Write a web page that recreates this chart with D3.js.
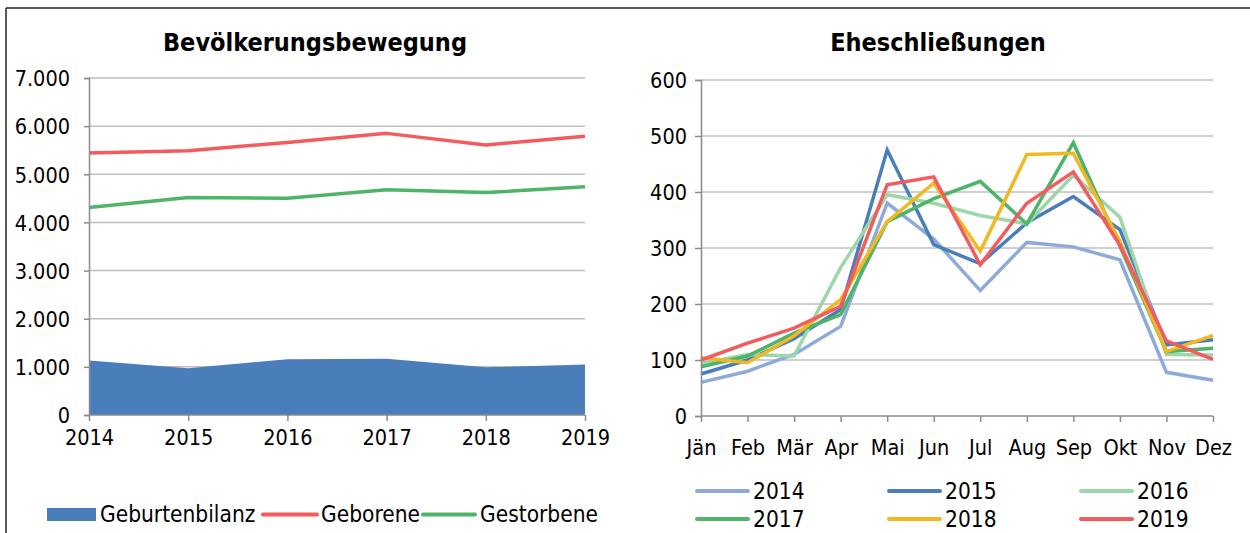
<!DOCTYPE html>
<html>
<head>
<meta charset="utf-8">
<script src="https://cdn.jsdelivr.net/npm/d3@7"></script>
<style>
  html, body { margin: 0; padding: 0; background: #fff; }
  svg { display: block; font-family: "DejaVu Sans Condensed", "DejaVu Sans", sans-serif; }
</style>
</head>
<body>
<svg id="chart" width="1250" height="533"></svg>
<script>
// Bevölkerungsbewegung
const years = ["2014", "2015", "2016", "2017", "2018", "2019"];
const geborene = [5440, 5490, 5660, 5850, 5610, 5790];
const gestorbene = [4310, 4520, 4500, 4680, 4620, 4740];
const geburtenbilanz = [1130, 970, 1160, 1170, 990, 1050];
const popTicks = [0, 1000, 2000, 3000, 4000, 5000, 6000, 7000];

// Eheschließungen
const months = ["Jän", "Feb", "Mär", "Apr", "Mai", "Jun", "Jul", "Aug", "Sep", "Okt", "Nov", "Dez"];
const marriageYears = ["2014", "2015", "2016", "2017", "2018", "2019"];
const m2014 = [60, 80, 110, 160, 380, 316, 224, 310, 302, 279, 78, 64];
const m2015 = [75, 100, 138, 190, 475, 306, 272, 345, 392, 333, 127, 136];
const m2016 = [94, 110, 107, 265, 395, 380, 358, 343, 430, 355, 110, 109];
const m2017 = [88, 107, 148, 181, 347, 388, 419, 343, 488, 303, 115, 121];
const m2018 = [104, 95, 143, 208, 347, 416, 294, 467, 469, 312, 115, 144];
const m2019 = [100, 130, 157, 196, 413, 427, 270, 380, 436, 305, 134, 101];
const marriageTicks = [0, 100, 200, 300, 400, 500, 600];

const marriageSeries = [m2014, m2015, m2016, m2017, m2018, m2019];
const marriageColors = ["#8eaadb", "#4a7ebb", "#9dd6a8", "#4db469", "#f1b921", "#f45b5f"];

const svg = d3.select("#chart");
const fmt = d3.format(",");
const deFmt = v => fmt(v).replace(/,/g, ".");
const gridColor = "#bfbfbf";
const axisColor = "#8c8c8c";
const axisFont = 21.5;
const legendFont = 22.5;
const titleFont = 25;

// outer frame
svg.append("line").attr("x1", 6).attr("x2", 1250).attr("y1", 8).attr("y2", 8)
  .attr("stroke", "#222").attr("stroke-width", 1.5);
svg.append("line").attr("x1", 6).attr("x2", 6).attr("y1", 8).attr("y2", 533)
  .attr("stroke", "#222").attr("stroke-width", 1.5);

function styleAxis(g) {
  g.select(".domain").attr("stroke", axisColor).attr("stroke-width", 1.5);
  g.selectAll(".tick line").attr("stroke", axisColor).attr("stroke-width", 1.5);
  g.selectAll(".tick text").attr("fill", "#000").attr("font-size", axisFont)
    .attr("font-family", "\"DejaVu Sans Condensed\", sans-serif");
}

// ---------- left chart ----------
{
  const x = d3.scalePoint().domain(years).range([89, 585]);
  const y = d3.scaleLinear().domain([0, 7000]).range([415, 78]);
  const g = svg.append("g");

  g.append("text").attr("x", 315).attr("y", 51).attr("text-anchor", "middle")
    .attr("font-size", titleFont).attr("font-weight", "bold").text("Bevölkerungsbewegung");

  g.append("g").selectAll("line").data(popTicks.filter(d => d > 0)).join("line")
    .attr("x1", 89).attr("x2", 585).attr("y1", d => y(d)).attr("y2", d => y(d))
    .attr("stroke", gridColor).attr("stroke-width", 1.5);

  const area = d3.area().x((d, i) => x(years[i])).y0(y(0)).y1(d => y(d));
  g.append("path").datum(geburtenbilanz).attr("d", area).attr("fill", "#4a7ebb");

  const line = d3.line().x((d, i) => x(years[i])).y(d => y(d));
  g.append("path").datum(geborene).attr("d", line).attr("fill", "none")
    .attr("stroke", "#f45b5f").attr("stroke-width", 3.5).attr("stroke-linejoin", "round");
  g.append("path").datum(gestorbene).attr("d", line).attr("fill", "none")
    .attr("stroke", "#4db469").attr("stroke-width", 3.5).attr("stroke-linejoin", "round");

  const ya = g.append("g").attr("transform", "translate(89,0)")
    .call(d3.axisLeft(y).tickValues(popTicks).tickFormat(deFmt).tickSize(5).tickPadding(14));
  styleAxis(ya);
  ya.selectAll(".tick text").attr("dy", "0.36em");

  const xa = g.append("g").attr("transform", "translate(0,415)")
    .call(d3.axisBottom(x).tickSize(6).tickPadding(9));
  styleAxis(xa);
  xa.select(".domain").attr("d", "M89,0H585");

  // legend
  const lg = g.append("g");
  lg.append("rect").attr("x", 47).attr("y", 508).attr("width", 49).attr("height", 13).attr("fill", "#4a7ebb");
  lg.append("text").attr("x", 100).attr("y", 522).attr("font-size", legendFont).text("Geburtenbilanz");
  lg.append("line").attr("x1", 263).attr("x2", 317).attr("y1", 514.5).attr("y2", 514.5)
    .attr("stroke", "#f45b5f").attr("stroke-width", 4).attr("stroke-linecap", "round");
  lg.append("text").attr("x", 321).attr("y", 522).attr("font-size", legendFont).text("Geborene");
  lg.append("line").attr("x1", 423).attr("x2", 475).attr("y1", 514.5).attr("y2", 514.5)
    .attr("stroke", "#4db469").attr("stroke-width", 4).attr("stroke-linecap", "round");
  lg.append("text").attr("x", 480).attr("y", 522).attr("font-size", legendFont).text("Gestorbene");
}

// ---------- right chart ----------
{
  const x = d3.scalePoint().domain(months).range([701, 1213]);
  const y = d3.scaleLinear().domain([0, 600]).range([416, 80]);
  const g = svg.append("g");

  g.append("text").attr("x", 938).attr("y", 51).attr("text-anchor", "middle")
    .attr("font-size", titleFont).attr("font-weight", "bold").text("Eheschließungen");

  g.append("g").selectAll("line").data(marriageTicks.filter(d => d > 0)).join("line")
    .attr("x1", 701).attr("x2", 1213).attr("y1", d => y(d)).attr("y2", d => y(d))
    .attr("stroke", gridColor).attr("stroke-width", 1.5);

  const line = d3.line().x((d, i) => x(months[i])).y(d => y(d));
  g.append("g").selectAll("path").data(marriageSeries).join("path")
    .attr("d", line).attr("fill", "none")
    .attr("stroke", (d, i) => marriageColors[i]).attr("stroke-width", 3.5)
    .attr("stroke-linejoin", "miter");

  const ya = g.append("g").attr("transform", "translate(701,0)")
    .call(d3.axisLeft(y).tickValues(marriageTicks).tickSize(6).tickPadding(8));
  styleAxis(ya);
  ya.selectAll(".tick text").attr("dy", "0.36em");

  const xa = g.append("g").attr("transform", "translate(0,416)")
    .call(d3.axisBottom(x).tickSize(6).tickPadding(18));
  styleAxis(xa);
  xa.select(".domain").attr("d", "M701,0H1213");

  // legend, two rows of three
  const cols = [697, 889, 1081];
  const rows = [491, 519];
  const lg = g.append("g").selectAll("g").data(marriageYears).join("g")
    .attr("transform", (d, i) => `translate(${cols[i % 3]},${rows[Math.floor(i / 3)]})`);
  lg.append("line").attr("x1", 0).attr("x2", 51).attr("y1", 0).attr("y2", 0)
    .attr("stroke", (d, i) => marriageColors[i]).attr("stroke-width", 4).attr("stroke-linecap", "round");
  lg.append("text").attr("x", 56).attr("y", 0).attr("dy", "0.36em").attr("font-size", legendFont).text(d => d);
}
</script>
</body>
</html>
